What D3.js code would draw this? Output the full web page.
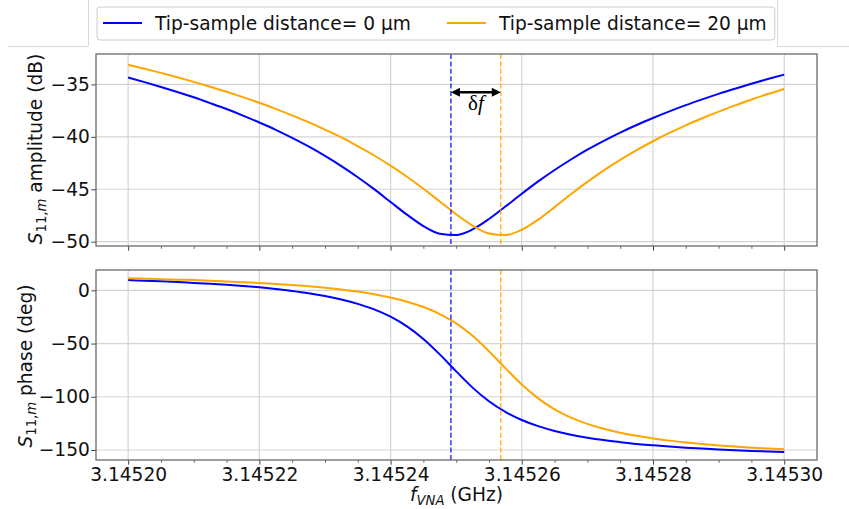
<!DOCTYPE html>
<html><head><meta charset="utf-8">
<script src="https://cdn.jsdelivr.net/npm/d3@7"></script>
<style>body{margin:0;background:#fff} svg{display:block;font-family:"DejaVu Sans",sans-serif}</style>
</head><body><svg id="c" width="849" height="509"></svg>
<script>
const freqs = [3.1452000,3.1452025,3.1452050,3.1452075,3.1452100,3.1452125,3.1452150,3.1452175,3.1452200,3.1452225,
  3.1452250,3.1452275,3.1452300,3.1452325,3.1452350,3.1452375,3.1452400,3.1452425,3.1452450,3.1452475,
  3.1452500,3.1452525,3.1452550,3.1452575,3.1452600,3.1452625,3.1452650,3.1452675,3.1452700,3.1452725,
  3.1452750,3.1452775,3.1452800,3.1452825,3.1452850,3.1452875,3.1452900,3.1452925,3.1452950,3.1452975,3.1453000];
const ampBlue = [-34.34,-34.78,-35.24,-35.72,-36.23,-36.78,-37.35,-37.97,-38.63,-39.33,
  -40.10,-40.92,-41.82,-42.79,-43.85,-44.99,-46.21,-47.42,-48.51,-49.24,
  -49.36,-48.83,-47.84,-46.65,-45.43,-44.25,-43.16,-42.16,-41.23,-40.39,
  -39.60,-38.87,-38.20,-37.57,-36.98,-36.43,-35.90,-35.41,-34.94,-34.49,-34.07];
const ampOrange = [-33.12,-33.51,-33.90,-34.32,-34.76,-35.22,-35.70,-36.21,-36.75,-37.33,
  -37.95,-38.60,-39.31,-40.06,-40.89,-41.78,-42.75,-43.81,-44.95,-46.16,
  -47.38,-48.47,-49.22,-49.37,-48.86,-47.89,-46.70,-45.47,-44.30,-43.20,
  -42.20,-41.27,-40.42,-39.63,-38.90,-38.23,-37.60,-37.00,-36.45,-35.92,-35.43];
const phaseBlue = [9.6,9.1,8.5,7.8,7.0,6.2,5.2,4.1,2.8,1.2,
  -0.6,-2.7,-5.3,-8.6,-12.7,-17.9,-24.8,-33.9,-45.7,-60.2,
  -76.1,-91.4,-104.2,-114.2,-121.8,-127.6,-132.1,-135.6,-138.4,-140.7,
  -142.6,-144.3,-145.6,-146.8,-147.8,-148.7,-149.5,-150.2,-150.9,-151.4,-151.9];
const phaseOrange = [11.3,10.9,10.5,10.0,9.6,9.0,8.4,7.7,6.9,6.0,
  5.0,3.8,2.4,0.7,-1.2,-3.7,-6.8,-10.7,-15.7,-22.3,
  -31.1,-42.7,-57.2,-73.1,-88.5,-101.5,-111.8,-119.6,-125.5,-130.1,
  -133.8,-136.7,-139.1,-141.2,-142.9,-144.4,-145.7,-146.8,-147.8,-148.6,-149.4];
const resonances = [3.1452492, 3.1452568];
const seriesNames = ["Tip-sample distance= 0 \u03bcm", "Tip-sample distance= 20 \u03bcm"];
const colors = ["#0000ff", "#ffa500"];
const xTicks = [3.14520, 3.14522, 3.14524, 3.14526, 3.14528, 3.14530];
const xMinorTicks = [3.145200,3.145205,3.145210,3.145215,3.145220,3.145225,3.145230,3.145235,3.145240,3.145245,
  3.145250,3.145255,3.145260,3.145265,3.145270,3.145275,3.145280,3.145285,3.145290,3.145295,3.145300];
const ampTicks = [-50, -45, -40, -35];
const phaseTicks = [-150, -100, -50, 0];
const arrowLevel = -35.75;   // dB level of the delta-f arrow
const deltaLabelLevel = -37.45;

const svg = d3.select("#c");
const FS = 18.6, SUB = 13.2;
const L = 96, R = 817;
const x = d3.scaleLinear().domain([3.1451951, 3.1453050]).range([L, R]);
const yAmp = d3.scaleLinear().domain([-50.41, -32.1]).range([246, 54]);
const yPh = d3.scaleLinear().domain([-159.4, 19.1]).range([460, 270]);

// background frame fragments
const frame = svg.append("g").attr("stroke", "#dadada").attr("stroke-width", 1).attr("fill", "none");
frame.append("path").attr("d", "M8,46.5H88.5V0");
frame.append("path").attr("d", "M777.5,0V46.5H849");

function panel(y, yTicks, series, showLabels) {
  const [b, t] = y.range();
  const g = svg.append("g");
  const grid = g.append("g").attr("stroke", "#d4d4d4").attr("stroke-width", 1.2);
  xTicks.forEach(v => grid.append("line").attr("x1", x(v)).attr("x2", x(v)).attr("y1", t).attr("y2", b));
  yTicks.forEach(v => grid.append("line").attr("x1", L).attr("x2", R).attr("y1", y(v)).attr("y2", y(v)));
  const id = "clip" + Math.round(t);
  svg.append("clipPath").attr("id", id).append("rect").attr("x", L).attr("y", t).attr("width", R - L).attr("height", b - t);
  const line = d3.line().x((d, i) => x(freqs[i])).y(d => y(d)).curve(d3.curveMonotoneX);
  const lg = g.append("g").attr("clip-path", `url(#${id})`);
  series.forEach((s, i) => {
    lg.append("path").attr("d", line(s)).attr("fill", "none").attr("stroke", colors[i]).attr("stroke-width", 2);
  });
  resonances.forEach((f, i) => {
    lg.append("line").attr("x1", x(f)).attr("x2", x(f)).attr("y1", t).attr("y2", b)
      .attr("stroke", colors[i]).attr("stroke-width", 1.4).attr("stroke-dasharray", "5,2.4").attr("opacity", 0.85);
  });
  const ax = g.append("g").attr("transform", `translate(0,${b})`)
    .call(d3.axisBottom(x).tickValues(xTicks).tickSize(4.7).tickPadding(3.5).tickFormat(showLabels ? d3.format(".5f") : ""));
  ax.select(".domain").remove();
  ax.selectAll("line").attr("stroke", "#444").attr("stroke-width", 1);
  ax.selectAll("text").attr("font-size", FS).attr("fill", "#111").attr("font-family", "DejaVu Sans");
  const axm = g.append("g").attr("transform", `translate(0,${b})`)
    .call(d3.axisBottom(x).tickValues(xMinorTicks.filter(v => !xTicks.some(m => Math.abs(m - v) < 1e-9))).tickSize(2.8).tickFormat(""));
  axm.select(".domain").remove();
  axm.selectAll("line").attr("stroke", "#444").attr("stroke-width", 0.8);
  const ay = g.append("g").attr("transform", `translate(${L},0)`)
    .call(d3.axisLeft(y).tickValues(yTicks).tickSize(4.7).tickPadding(1.5).tickFormat(d3.format("d")));
  ay.select(".domain").remove();
  ay.selectAll("line").attr("stroke", "#444").attr("stroke-width", 1);
  ay.selectAll("text").attr("font-size", FS).attr("fill", "#111").attr("font-family", "DejaVu Sans");
  g.append("rect").attr("x", L).attr("y", t).attr("width", R - L).attr("height", b - t)
    .attr("fill", "none").attr("stroke", "#6a6a6a").attr("stroke-width", 1.3);
  return g;
}

panel(yAmp, ampTicks, [ampBlue, ampOrange], false);
panel(yPh, phaseTicks, [phaseBlue, phaseOrange], true);

// delta f arrow
const ax1 = x(resonances[0]), ax2 = x(resonances[1]), ay = yAmp(arrowLevel);
const HL = 9, HW = 4.5;
svg.append("line").attr("x1", ax1 + HL - 1).attr("x2", ax2 - HL + 1).attr("y1", ay).attr("y2", ay)
  .attr("stroke", "#000").attr("stroke-width", 2.6);
svg.append("path").attr("d", `M${ax1},${ay}L${ax1 + HL},${ay - HW}L${ax1 + HL},${ay + HW}Z`).attr("fill", "#000");
svg.append("path").attr("d", `M${ax2},${ay}L${ax2 - HL},${ay - HW}L${ax2 - HL},${ay + HW}Z`).attr("fill", "#000");
svg.append("text").attr("x", (ax1 + ax2) / 2).attr("y", yAmp(deltaLabelLevel)).attr("text-anchor", "middle")
  .attr("font-family", "Liberation Serif, serif").attr("font-size", 21)
  .html('<tspan>\u03b4</tspan><tspan font-style="italic">f</tspan>');

// y labels
function ylab(cx, cy, rest) {
  const t = svg.append("text").attr("transform", `translate(${cx},${cy}) rotate(-90)`).attr("text-anchor", "middle")
    .attr("font-size", FS).attr("fill", "#111");
  t.append("tspan").attr("font-style", "italic").text("S");
  t.append("tspan").attr("font-size", SUB).attr("dy", 4).text("11,");
  t.append("tspan").attr("font-size", SUB).attr("font-style", "italic").text("m");
  t.append("tspan").attr("dy", -4).text(" " + rest);
}
ylab(41.5, 149, "amplitude (dB)");
ylab(31.5, 366, "phase (deg)");

// x label
const xl = svg.append("text").attr("x", (L + R) / 2).attr("y", 500.5).attr("text-anchor", "middle").attr("font-size", FS).attr("fill", "#111");
xl.append("tspan").attr("font-style", "italic").text("f");
xl.append("tspan").attr("font-size", SUB).attr("font-style", "italic").attr("dy", 4).text("VNA");
xl.append("tspan").attr("dy", -4).text(" (GHz)");

// legend
const lgd = svg.append("g");
const box = lgd.append("rect").attr("x", 97).attr("y", 7).attr("height", 33).attr("rx", 3)
  .attr("fill", "#fff").attr("stroke", "#cccccc").attr("stroke-width", 1);
let cx = 103;
seriesNames.forEach((name, i) => {
  lgd.append("line").attr("x1", cx).attr("x2", cx + 39).attr("y1", 23).attr("y2", 23).attr("stroke", colors[i]).attr("stroke-width", 2);
  const tx = lgd.append("text").attr("x", cx + 52).attr("y", 29.8).attr("font-size", FS).attr("fill", "#111").text(name);
  const w = tx.node().getComputedTextLength();
  cx = cx + 52 + w + 36;
  if (i === seriesNames.length - 1) box.attr("width", (cx - 36 + 8) - 97);
});
</script></body></html>
